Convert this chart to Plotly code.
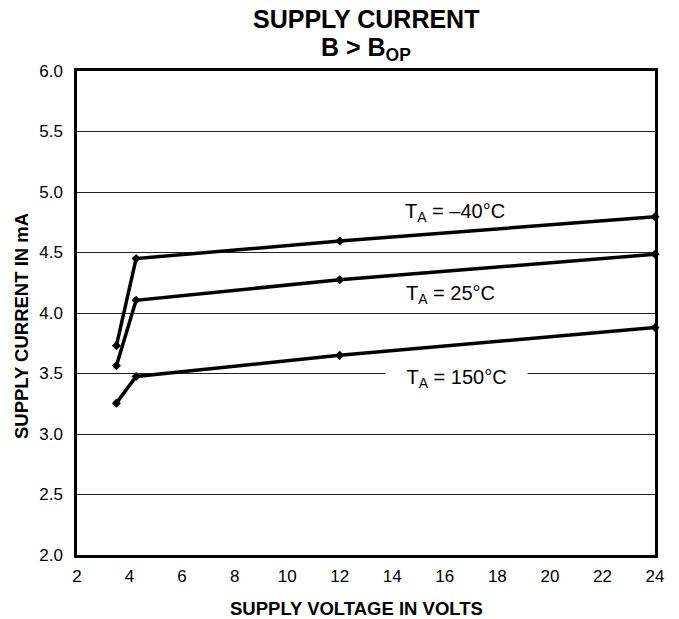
import plotly.graph_objects as go

volts = [3.5, 4.25, 12, 24]
i_m40 = [3.73, 4.45, 4.595, 4.795]
i_25 = [3.565, 4.105, 4.275, 4.485]
i_150 = [3.255, 3.475, 3.65, 3.88]

series = [("T<sub>A</sub> = –40°C", i_m40), ("T<sub>A</sub> = 25°C", i_25), ("T<sub>A</sub> = 150°C", i_150)]
label_pos = [(16.4, 4.83), (16.2, 4.15), (16.45, 3.46)]

x_ticks = list(range(2, 25, 2))
y_ticks = [2.0, 2.5, 3.0, 3.5, 4.0, 4.5, 5.0, 5.5, 6.0]
y_ticktext = ["2.0", "2.5", "3.0", "3.5", "4.0", "4.5", "5.0", "5.5", "6.0"]

FONT = "Liberation Sans, Arial, sans-serif"

fig = go.Figure()
for name, vals in series:
    fig.add_trace(go.Scatter(
        x=volts, y=vals, mode="lines+markers", name=name,
        line=dict(color="black", width=3.5),
        marker=dict(symbol="diamond", size=7, color="black"),
        showlegend=False, cliponaxis=False,
    ))

for (name, _), (lx, ly), bg in zip(series, label_pos, [False, False, True]):
    kw = dict(bgcolor="white", width=141) if bg else {}
    fig.add_annotation(
        x=lx, y=ly, text=name, showarrow=False, yanchor="middle",
        font=dict(family=FONT, size=20, color="black"), borderpad=0, **kw,
    )

# titles
fig.add_annotation(xref="paper", yref="paper", x=0.5, y=1, yanchor="middle", yshift=52,
                   text="<b>SUPPLY CURRENT</b>", showarrow=False,
                   font=dict(family=FONT, size=25, color="black"))
fig.add_annotation(xref="paper", yref="paper", x=0.5, y=1, yanchor="middle", yshift=22,
                   text="<b>B > B<sub>OP</sub></b>", showarrow=False,
                   font=dict(family=FONT, size=25, color="black"))
fig.add_annotation(xref="paper", yref="paper", x=0.483, y=0, yanchor="middle", yshift=-53,
                   text="<b>SUPPLY VOLTAGE IN VOLTS</b>", showarrow=False,
                   font=dict(family=FONT, size=18.5, color="black"))
fig.add_annotation(xref="paper", yref="paper", x=0, xanchor="center", xshift=-56, y=0.473,
                   text="<b>SUPPLY CURRENT IN mA</b>", showarrow=False, textangle=-90,
                   font=dict(family=FONT, size=18.5, color="black"))

fig.update_layout(
    width=671, height=611,
    margin=dict(l=69, r=24, t=63, b=64),
    paper_bgcolor="white", plot_bgcolor="white",
    font=dict(family=FONT, color="black"),
)
fig.update_xaxes(
    range=[2, 24], tickmode="array", tickvals=x_ticks,
    showgrid=False, zeroline=False,
    showline=True, linecolor="black", linewidth=2.5, mirror=True,
    ticks="", ticklabelstandoff=4, tickfont=dict(family=FONT, size=17, color="black"),
)
fig.update_yaxes(
    range=[2, 6], tickmode="array", tickvals=y_ticks, ticktext=y_ticktext,
    showgrid=True, gridcolor="#222222", gridwidth=1, zeroline=False,
    showline=True, linecolor="black", linewidth=2.5, mirror=True,
    ticks="", ticklabelstandoff=8, tickfont=dict(family=FONT, size=17, color="black"),
)

fig.write_html("out.html")
